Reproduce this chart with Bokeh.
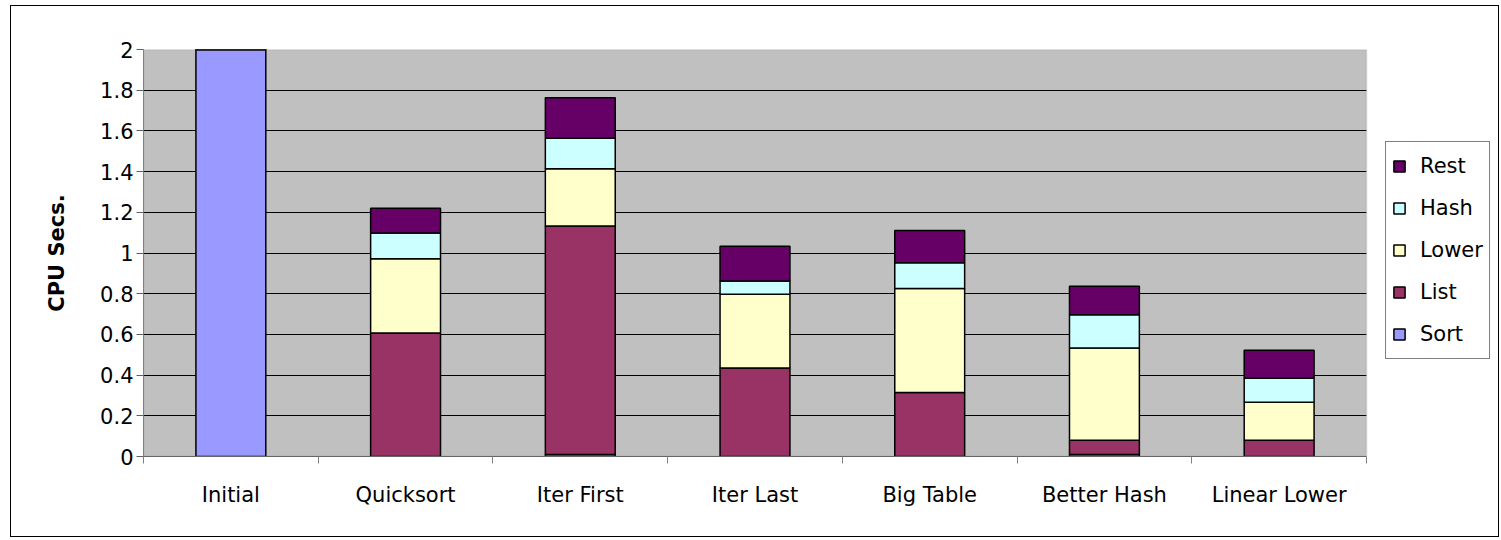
from bokeh.plotting import figure
from bokeh.models import (ColumnDataSource, FixedTicker, Legend, LegendItem,
                          BoxAnnotation)
from bokeh.embed import file_html
from bokeh.resources import INLINE

# ---- data ----
categories = ["Initial", "Quicksort", "Iter First", "Iter Last",
              "Big Table", "Better Hash", "Linear Lower"]
series = ["Sort", "List", "Lower", "Hash", "Rest"]
sort_v = [2.02, 0.0, 0.01, 0.0, 0.0, 0.01, 0.0]
list_v = [0.0, 0.607, 1.123, 0.435, 0.315, 0.070, 0.080]
lower_v = [0.0, 0.365, 0.281, 0.362, 0.510, 0.453, 0.186]
hash_v = [0.0, 0.126, 0.150, 0.065, 0.127, 0.164, 0.118]
rest_v = [0.0, 0.122, 0.199, 0.171, 0.159, 0.139, 0.138]
colors = ["#9999FF", "#993366", "#FFFFCC", "#CCFFFF", "#660066"]
y_ticks = [0, 0.2, 0.4, 0.6, 0.8, 1.0, 1.2, 1.4, 1.6, 1.8, 2.0]
y_tick_labels = ["0", "0.2", "0.4", "0.6", "0.8", "1", "1.2", "1.4", "1.6", "1.8", "2"]

FONT = "DejaVu Sans"
N = len(categories)

# layout: plot area 1223 px wide; the frame is extended to the right edge so that
# the legend (drawn inside the frame) is not clipped; that extra strip stays white.
PLOT_W = 1223
FRAME_W = 1357
x_end = N * FRAME_W / PLOT_W

xpos = [i + 0.5 for i in range(N)]
source = ColumnDataSource(dict(x=xpos, Sort=sort_v, List=list_v, Lower=lower_v,
                               Hash=hash_v, Rest=rest_v))

p = figure(width=1489, height=532, x_range=(0, x_end), y_range=(0, 2),
           output_backend="svg", toolbar_location=None,
           min_border_left=132, min_border_right=0, min_border_top=43,
           min_border_bottom=82)
p.styles = {"border": "1px solid black", "margin-left": "10px", "margin-top": "5px"}
p.background_fill_color = "white"
p.border_fill_color = "white"
p.outline_line_color = None
p.outline_line_alpha = 0
p.outline_line_width = 0

# grey plot area (drawn beneath the grid)
p.add_layout(BoxAnnotation(left=0, right=N, bottom=0, top=2, fill_color="#C0C0C0",
                           fill_alpha=1, line_color=None, line_alpha=0,
                           level="image"))

renderers = p.vbar_stack(series, x="x", width=0.4, source=source,
                         fill_color=colors, line_color="black", line_width=1.5)

# grid
p.xgrid.visible = False
p.ygrid.ticker = FixedTicker(ticks=y_ticks[1:-1])
p.ygrid.grid_line_color = "black"
p.ygrid.grid_line_width = 1

# hide grid lines right of the plot area, then draw the plot-area border
p.add_layout(BoxAnnotation(left=N, fill_color="white", fill_alpha=1,
                           line_color=None, line_alpha=0))
p.add_layout(BoxAnnotation(left=0, right=N, bottom=0, top=2, fill_alpha=0,
                           line_color="#808080", line_width=1.5))

# x axis
p.xaxis.bounds = (0, N)
p.xaxis.ticker = FixedTicker(ticks=xpos, minor_ticks=list(range(N + 1)))
p.xaxis.major_label_overrides = {xv: c for xv, c in zip(xpos, categories)}
p.xaxis.major_tick_out = 0
p.xaxis.major_tick_in = 0
p.xaxis.minor_tick_out = 7
p.xaxis.minor_tick_in = 0
p.xaxis.minor_tick_line_color = "#808080"
p.xaxis.axis_line_color = "#606060"
p.xaxis.major_label_text_font = FONT
p.xaxis.major_label_text_font_size = "21px"
p.xaxis.major_label_text_color = "black"
p.xaxis.major_label_standoff = 19

# y axis
p.yaxis.ticker = FixedTicker(ticks=y_ticks, minor_ticks=[])
p.yaxis.major_label_overrides = {t: l for t, l in zip(y_ticks, y_tick_labels)}
p.yaxis.major_tick_out = 7
p.yaxis.major_tick_in = 0
p.yaxis.minor_tick_out = 0
p.yaxis.minor_tick_in = 0
p.yaxis.major_tick_line_color = "#606060"
p.yaxis.axis_line_color = "#808080"
p.yaxis.major_label_text_font = FONT
p.yaxis.major_label_text_font_size = "21px"
p.yaxis.major_label_text_color = "black"
p.yaxis.major_label_standoff = 3
p.yaxis.axis_label = "CPU Secs."
p.yaxis.axis_label_text_font = FONT
p.yaxis.axis_label_text_font_size = "21px"
p.yaxis.axis_label_text_font_style = "bold"
p.yaxis.axis_label_text_color = "black"
p.yaxis.axis_label_standoff = 28

# legend (bottom-left corner relative to the frame's bottom-left)
items = [LegendItem(label=s, renderers=[r]) for s, r in zip(series, renderers)]
items.reverse()
legend = Legend(items=items, location=(1242, 97),
                border_line_color="black", border_line_width=1,
                background_fill_color="white", background_fill_alpha=1,
                label_text_font=FONT, label_text_font_size="21px",
                label_text_color="black",
                glyph_width=14, glyph_height=14, label_height=36,
                label_standoff=14, padding=6, spacing=6, margin=0)
p.add_layout(legend)

open("out.html", "w").write(file_html(p, INLINE))
